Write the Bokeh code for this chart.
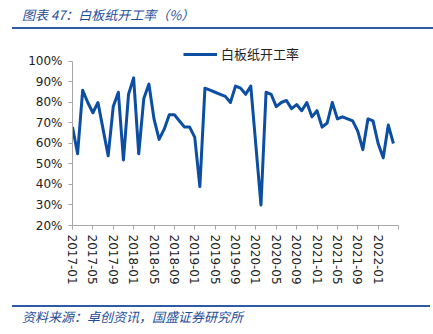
import math
from bokeh.plotting import figure
from bokeh.models import (Range1d, FixedTicker, PrintfTickFormatter, Div, Legend,
                          LegendItem, ColumnDataSource)
from bokeh.layouts import column
from bokeh.embed import file_html
from bokeh.resources import INLINE

title_text = "图表 47：白板纸开工率（%）"
source_text = "资料来源：卓创资讯，国盛证券研究所"
series_name = "白板纸开工率"

months = [
    "2017-01", "2017-02", "2017-03", "2017-04", "2017-05", "2017-06", "2017-07", "2017-08", "2017-09", "2017-10", "2017-11", "2017-12",
    "2018-01", "2018-02", "2018-03", "2018-04", "2018-05", "2018-06", "2018-07", "2018-08", "2018-09", "2018-10", "2018-11", "2018-12",
    "2019-01", "2019-02", "2019-03", "2019-04", "2019-05", "2019-06", "2019-07", "2019-08", "2019-09", "2019-10", "2019-11", "2019-12",
    "2020-01", "2020-02", "2020-03", "2020-04", "2020-05", "2020-06", "2020-07", "2020-08", "2020-09", "2020-10", "2020-11", "2020-12",
    "2021-01", "2021-02", "2021-03", "2021-04", "2021-05", "2021-06", "2021-07", "2021-08", "2021-09", "2021-10", "2021-11", "2021-12",
    "2022-01", "2022-02", "2022-03", "2022-04",
]
rate = [
    68, 55, 86, 80, 75, 80, 67, 54, 78, 85, 52, 84,
    92, 55, 82, 89, 72, 62, 67, 74, 74, 71, 68, 68,
    63, 39, 87, 86, 85, 84, 83, 80, 88, 87, 84, 88,
    59, 30, 85, 84, 78, 80, 81, 77, 79, 76, 80, 73,
    76, 68, 70, 80, 72, 73, 72, 71, 66, 57, 72, 71,
    60, 53, 69, 60,
]
tick_labels = ["2017-01", "2017-05", "2017-09", "2018-01", "2018-05", "2018-09",
               "2019-01", "2019-05", "2019-09", "2020-01", "2020-05", "2020-09",
               "2021-01", "2021-05", "2021-09", "2022-01"]
y_ticks = [20, 30, 40, 50, 60, 70, 80, 90, 100]


def month_index(s):
    y, m = s.split("-")
    return (int(y) - 2017) * 12 + int(m) - 1


xs = [month_index(m) for m in months]
src = ColumnDataSource(dict(x=xs, y=rate))

tick_pos = [month_index(t) for t in tick_labels]
all_ticks = tick_pos + [tick_pos[-1] + 4]
overrides = {t: l for t, l in zip(tick_pos, tick_labels)}
overrides[all_ticks[-1]] = ""

BLUE = "#0b4ea2"
TEXT_BLUE = "#1f4e9a"

# frame: x 72..398, y 43..225 (page); 100% sits at y=61
p = figure(width=433, height=274, output_backend="svg", toolbar_location=None,
           x_range=Range1d(0, all_ticks[-1]), y_range=Range1d(20, 108.78),
           min_border_left=72, min_border_right=35, min_border_top=13,
           min_border_bottom=79)
p.outline_line_color = None
p.xgrid.visible = False
p.ygrid.visible = False
p.background_fill_color = "white"
p.border_fill_color = "white"

r = p.line("x", "y", source=src, line_color=BLUE, line_width=3, line_join="round")

for ax in (p.xaxis[0], p.yaxis[0]):
    ax.axis_line_color = "#a6a6a6"
    ax.axis_line_width = 1
    ax.major_tick_line_color = "#a6a6a6"
    ax.major_tick_in = 0
    ax.major_tick_out = 4
    ax.minor_tick_line_color = None
    ax.major_label_text_font = "DejaVu Sans"
    ax.major_label_text_font_size = "12px"
    ax.major_label_text_color = "#222222"

p.yaxis.ticker = FixedTicker(ticks=y_ticks)
p.yaxis.formatter = PrintfTickFormatter(format="%d%%")
p.yaxis.major_label_standoff = 6
p.yaxis.bounds = (20, 100)

p.xaxis.ticker = FixedTicker(ticks=all_ticks)
p.xaxis.major_label_overrides = overrides
p.xaxis.major_label_orientation = -math.pi / 2
p.xaxis.major_label_standoff = 5

legend = Legend(items=[LegendItem(label=series_name, renderers=[r])],
                location=(111, 162))
legend.border_line_color = None
legend.background_fill_alpha = 0
legend.padding = 0
legend.margin = 0
legend.spacing = 0
legend.glyph_width = 34
legend.glyph_height = 16
legend.label_height = 16
legend.label_standoff = 4
legend.label_text_font = "Noto Sans CJK SC"
legend.label_text_font_size = "13px"
legend.label_text_color = "#222222"
legend.label_text_baseline = "middle"
p.add_layout(legend)

header = Div(
    text=(
        '<div style="position:relative;width:433px;height:30px;">'
        '<span style="position:absolute;left:22px;top:7px;font-family:\'Noto Sans CJK SC\';'
        'font-style:italic;font-size:13px;line-height:15px;color:%s;white-space:nowrap;">%s</span>'
        '<div style="position:absolute;left:12px;width:421px;top:27px;height:0;'
        'border-top:2px solid #2a5aa8;"></div></div>' % (TEXT_BLUE, title_text)
    ),
    width=433, height=30, margin=0,
)
footer = Div(
    text=(
        '<div style="position:relative;width:433px;height:30px;">'
        '<div style="position:absolute;left:12px;width:418px;top:1px;height:0;'
        'border-top:2px solid #2a5aa8;"></div>'
        '<span style="position:absolute;left:22px;top:5px;font-family:\'Noto Sans CJK SC\';'
        'font-style:italic;font-size:13px;line-height:15px;color:%s;white-space:nowrap;">%s</span>'
        '</div>' % (TEXT_BLUE, source_text)
    ),
    width=433, height=30, margin=0,
)

layout = column(header, p, footer, spacing=0)
open("out.html", "w").write(file_html(layout, INLINE))
